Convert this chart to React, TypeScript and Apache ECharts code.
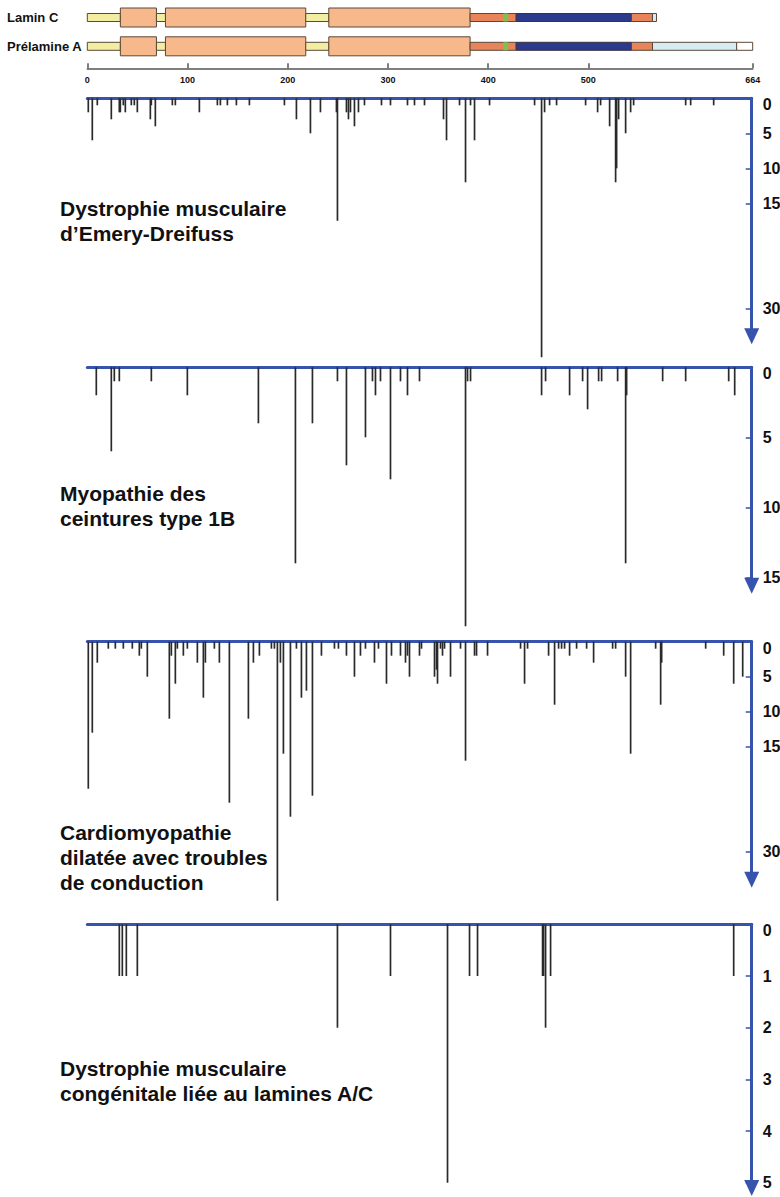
import React, { useEffect, useRef } from "react";
import * as echarts from "echarts";

// ---------- data ----------
const residueTicks = [0, 100, 200, 300, 400, 500, 664];
const isoforms = ["Lamin C", "Prélamine A"];

// [start residue, end residue, kind]
const laminCDomains: [number, number, string][] = [
  [0, 33, "head"], [33, 69, "coil"], [69, 78, "linker"], [78, 218, "coil"],
  [218, 241, "linker"], [241, 382, "coil"], [382, 428, "tail"], [415, 420, "nls"],
  [428, 543, "igfold"], [543, 564, "tail"], [564, 568, "cterm"],
];
const prelaminADomains: [number, number, string][] = [
  [0, 33, "head"], [33, 69, "coil"], [69, 78, "linker"], [78, 218, "coil"],
  [218, 241, "linker"], [241, 382, "coil"], [382, 428, "tail"], [415, 420, "nls"],
  [428, 543, "igfold"], [543, 564, "tail"], [564, 648, "cterm"], [648, 664, "prepeptide"],
];

// [residue, number of families / cases]
const edmdMutations = [
  [1, 2], [5, 6], [10, 1], [24, 3], [32, 2], [33, 2], [36, 1], [38, 2], [44, 1], [47, 1],
  [50, 2], [63, 3], [64, 1], [68, 4], [85, 1], [88, 1], [112, 2], [130, 1], [133, 1], [140, 1],
  [149, 1], [162, 1], [197, 1], [209, 3], [223, 5], [233, 2], [249, 2], [250, 17.5], [259, 2],
  [261, 3], [263, 2], [267, 4], [271, 2], [277, 1], [294, 1], [303, 1], [320, 1], [327, 1],
  [337, 1], [356, 3], [359, 6], [372, 1], [378, 12], [383, 1], [387, 6], [402, 1], [447, 1],
  [454, 37], [457, 2], [462, 1], [469, 1], [498, 1], [510, 2], [513, 1], [522, 4], [528, 12],
  [529, 10], [531, 3], [538, 5], [543, 2], [546, 1], [598, 1], [603, 1], [626, 1],
];
const lgmdMutations = [
  [9, 2], [24, 6], [27, 1], [32, 1], [64, 1], [100, 2], [171, 4], [208, 14], [225, 4], [250, 1],
  [259, 7], [278, 5], [285, 1], [288, 2], [293, 1], [303, 8], [313, 1], [320, 2], [332, 1],
  [378, 18.5], [380, 1], [383, 1], [454, 2], [458, 1], [482, 2], [495, 1], [500, 3], [511, 1],
  [514, 1], [530, 1], [538, 14], [539, 2], [575, 1], [598, 1], [641, 1], [647, 2],
];
const dcmMutations = [
  [1, 21], [5, 13], [10, 3], [21, 1], [28, 1], [36, 1], [45, 1], [52, 2], [54, 1], [60, 5],
  [82, 11], [84, 2], [88, 6], [90, 1], [96, 2], [100, 1], [110, 3], [116, 8], [118, 3], [127, 1],
  [132, 3], [142, 23], [161, 11], [166, 3], [172, 2], [184, 1], [187, 1], [190, 37], [193, 3],
  [196, 16], [203, 25], [209, 1], [214, 8], [219, 7], [225, 22], [234, 2], [247, 1], [251, 1],
  [259, 2], [267, 5], [273, 2], [278, 1], [287, 3], [291, 1], [299, 6], [304, 2], [313, 2],
  [318, 3], [320, 2], [322, 5], [332, 2], [334, 1], [347, 5], [349, 4], [350, 6], [353, 1],
  [355, 2], [357, 1], [363, 5], [373, 1], [378, 17], [387, 2], [389, 2], [400, 2], [433, 1],
  [437, 6], [440, 1], [461, 2], [467, 9], [471, 1], [474, 1], [477, 1], [482, 2], [489, 1],
  [499, 1], [506, 3], [525, 1], [528, 1], [538, 5], [543, 16], [568, 1], [573, 9], [574, 3],
  [618, 1], [636, 2], [646, 6], [655, 5],
];
const cmdMutations = [
  [32, 1], [35, 1], [39, 1], [50, 1], [250, 2], [303, 1], [360, 5], [382, 1], [390, 1],
  [455, 1], [456, 1], [458, 2], [463, 1], [646, 1],
];

const edmdTicks = [0, 5, 10, 15, 30];
const lgmdTicks = [0, 5, 10, 15];
const dcmTicks = [0, 5, 10, 15, 30];
const cmdTicks = [0, 1, 2, 3, 4, 5];

const panelTitles = [
  "Dystrophie musculaire\nd’Emery-Dreifuss",
  "Myopathie des\nceintures type 1B",
  "Cardiomyopathie\ndilatée avec troubles\nde conduction",
  "Dystrophie musculaire\ncongénitale liée au lamines A/C",
];

// ---------- styles / layout ----------
const BLUE = "#3653ad";
const FONT = '"Liberation Sans", Arial, Helvetica, sans-serif';
const kindStyles: Record<string, { fill: string; h: number; stroke: string }> = {
  head: { fill: "#f3eda2", h: 8, stroke: "#5a4838" },
  linker: { fill: "#f3eda2", h: 8, stroke: "#5a4838" },
  coil: { fill: "#f7b98c", h: 19, stroke: "#5a4838" },
  tail: { fill: "#e8845a", h: 8, stroke: "#5a4838" },
  nls: { fill: "#7dc24c", h: 8, stroke: "none" },
  igfold: { fill: "#2c3a8e", h: 8, stroke: "#3a3040" },
  cterm: { fill: "#d6ebf4", h: 8, stroke: "#5a4838" },
  prepeptide: { fill: "#ffffff", h: 8, stroke: "#5a4838" },
};
const kindNames = Object.keys(kindStyles);

const panels = [
  { data: edmdMutations, ticks: edmdTicks, max: 34, top: 98.3, height: 238 },
  { data: lgmdMutations, ticks: lgmdTicks, max: 15.6, top: 367.3, height: 218.4 },
  { data: dcmMutations, ticks: dcmTicks, max: 34, top: 641.7, height: 238 },
  { data: cmdMutations, ticks: cmdTicks, max: 5.1, top: 924.3, height: 263.7 },
];
const titleTops = [196, 480.5, 819.5, 1055.5];

export default function App() {
  const ref = useRef<HTMLDivElement>(null);

  useEffect(() => {
    document.body.style.margin = "0";
    document.body.style.overflow = "hidden";
    if (!ref.current) return;
    const chart = echarts.init(ref.current, undefined, { renderer: "svg" });

    const domainRows: any[] = [];
    [laminCDomains, prelaminADomains].forEach((doms, row) => {
      doms.forEach((d) => domainRows.push([d[0], d[1], row, kindNames.indexOf(d[2])]));
    });

    const grids: any[] = [
      { left: 87.3, right: 27.3, top: 3.1, height: 57.6, outerBoundsMode: "none", containLabel: false },
      ...panels.map((p) => ({
        left: 87.3, right: 28.3, top: p.top, height: p.height, outerBoundsMode: "none", containLabel: false,
      })),
    ];

    const xAxes: any[] = [
      {
        gridIndex: 0, type: "value", min: 0, max: 664, position: "bottom", offset: 7.6,
        axisLine: { show: true, onZero: false, lineStyle: { color: "#555", width: 1.5 } },
        axisTick: { show: true, inside: true, length: 5, customValues: residueTicks, lineStyle: { color: "#555", width: 1.5 } },
        axisLabel: { customValues: residueTicks, fontSize: 9, fontWeight: "bold", color: "#111", margin: 7, fontFamily: FONT },
        splitLine: { show: false },
      },
      ...panels.map((p, i) => ({
        gridIndex: i + 1, type: "value", min: 0, max: 664, position: "top",
        axisLine: { show: true, onZero: false, lineStyle: { color: BLUE, width: 3 } },
        axisTick: { show: false }, axisLabel: { show: false }, splitLine: { show: false },
      })),
    ];

    const yAxes: any[] = [
      {
        gridIndex: 0, type: "category", data: isoforms, inverse: true,
        axisLine: { show: false }, axisTick: { show: false }, splitLine: { show: false },
        axisLabel: { align: "left", margin: 80.3, fontSize: 13, fontWeight: "bold", color: "#111", fontFamily: FONT },
      },
      ...panels.map((p, i) => ({
        gridIndex: i + 1, type: "value", inverse: true, min: 0, max: p.max, position: "right",
        axisLine: {
          show: true, onZero: false, symbol: ["triangle", "none"], symbolSize: [15, 16],
          lineStyle: { color: BLUE, width: 3 },
        },
        axisTick: {
          show: true, inside: true, length: 6, customValues: p.ticks.filter((t) => t !== 0),
          lineStyle: { color: BLUE, width: 1.5 },
        },
        axisLabel: {
          customValues: p.ticks, fontSize: 16, fontWeight: "bold", color: "#111", margin: 11, fontFamily: FONT,
          formatter: (v: number) => (v === 0 ? "{z|0}" : String(v)),
          rich: { z: { padding: [13, 0, 0, 0], fontSize: 16, fontWeight: "bold", color: "#111", fontFamily: FONT } },
        },
        splitLine: { show: false },
      })),
    ];

    const series: any[] = [
      {
        type: "custom", xAxisIndex: 0, yAxisIndex: 0, data: domainRows,
        encode: { x: [0, 1], y: 2 },
        renderItem: (params: any, api: any) => {
          const s = api.coord([api.value(0), api.value(2)]);
          const e = api.coord([api.value(1), api.value(2)]);
          const k = kindStyles[kindNames[api.value(3)]];
          return {
            type: "rect",
            shape: { x: s[0], y: s[1] - k.h / 2, width: e[0] - s[0], height: k.h },
            style: { fill: k.fill, stroke: k.stroke, lineWidth: 1 },
          };
        },
      },
      ...panels.map((p, i) => ({
        type: "bar", xAxisIndex: i + 1, yAxisIndex: i + 1, data: p.data,
        barWidth: 1.7, barGap: "-100%", clip: false,
        itemStyle: { color: "#2a2a2a" },
      })),
    ];

    chart.setOption({
      animation: false,
      backgroundColor: "#ffffff",
      grid: grids,
      xAxis: xAxes,
      yAxis: yAxes,
      series,
      graphic: panelTitles.map((t, i) => ({
        type: "text", left: 60, top: titleTops[i],
        style: { text: t, font: `bold 21px ${FONT}`, lineHeight: 25, fill: "#111" },
      })),
    });

    return () => chart.dispose();
  }, []);

  return <div ref={ref} style={{ width: 780, height: 1197 }} />;
}
